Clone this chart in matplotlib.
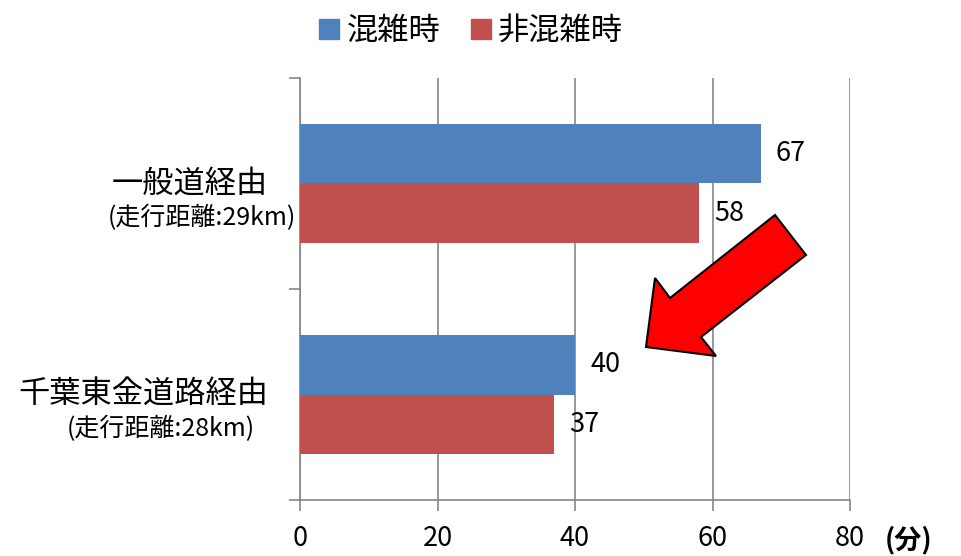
import matplotlib
matplotlib.use("Agg")
import matplotlib.pyplot as plt
from matplotlib.patches import Polygon
from matplotlib.lines import Line2D

plt.rcParams['font.family'] = ['Noto Sans CJK JP', 'DejaVu Sans']

categories = ["一般道経由", "千葉東金道路経由"]
subtitles = ["(走行距離:29km)", "(走行距離:28km)"]
series_names = ["混雑時", "非混雑時"]
congested = [67, 40]
uncongested = [58, 37]
xticks = [0, 20, 40, 60, 80]
unit_label = "(分)"

blue = "#4F81BD"
red = "#C0504D"
grey = "#868686"

W, H = 962, 556
fig = plt.figure(figsize=(W / 100, H / 100), dpi=100)
ax = fig.add_axes([300 / W, 1 - 500 / H, 550 / W, 422 / H])

bh = 0.284
ypos = list(range(len(categories)))
b1 = ax.barh([y - bh / 2 for y in ypos], congested, height=bh, color=blue, zorder=3)
b2 = ax.barh([y + bh / 2 for y in ypos], uncongested, height=bh, color=red, zorder=3)

for bars, vals in ((b1, congested), (b2, uncongested)):
    for rect, v in zip(bars, vals):
        ax.annotate(str(v), xy=(v, rect.get_y() + rect.get_height() / 2),
                    xytext=(11, 0), textcoords='offset points',
                    ha='left', va='center', fontsize=19.5, color='black')

ax.set_xlim(0, 80)
ax.set_ylim(1.5, -0.5)
ax.set_xticks(xticks)
ax.set_xticklabels([str(t) for t in xticks], fontsize=19.5)
ax.xaxis.grid(True, color=grey, linewidth=1.2, zorder=0)
ax.tick_params(axis='x', length=8, width=1.2, color=grey, pad=10, direction='out')
ax.set_yticks([-0.5, 0.5, 1.5])
ax.set_yticklabels([])
ax.tick_params(axis='y', length=8, width=1.2, color=grey, direction='out')
for s in ('top', 'right'):
    ax.spines[s].set_visible(False)
for s in ('left', 'bottom'):
    ax.spines[s].set_color(grey)
    ax.spines[s].set_linewidth(1.2)

# category labels
main_x = [268, 268]
sub_x = [296, 255]
for i, (c, s) in enumerate(zip(categories, subtitles)):
    ax.annotate(c, xy=(main_x[i], i), xycoords=('figure pixels', 'data'),
                xytext=(0, 0), textcoords='offset points',
                ha='right', va='center', fontsize=22.5)
    ax.annotate(s, xy=(sub_x[i], i), xycoords=('figure pixels', 'data'),
                xytext=(0, -25), textcoords='offset points',
                ha='right', va='center', fontsize=18)

fig.text(885 / W, 1 - 540 / H, unit_label, fontsize=19.5, fontweight='bold',
         ha='left', va='center')

# legend
handles = [Line2D([], [], marker='s', linestyle='none', markersize=14,
                  markerfacecolor=blue, markeredgecolor=blue),
           Line2D([], [], marker='s', linestyle='none', markersize=14,
                  markerfacecolor=red, markeredgecolor=red)]
fig.legend(handles, series_names, loc='center', bbox_to_anchor=(470 / W, 1 - 31 / H),
           ncol=2, frameon=False, fontsize=22.5, handletextpad=0.15,
           columnspacing=0.9, handlelength=0.8)

# annotation arrow (figure pixels)
arrow_px = [(775, 215), (806, 255), (701, 337), (716, 356),
            (646, 347), (655, 278), (670, 298)]
arrow = Polygon([(x / W, 1 - y / H) for x, y in arrow_px], closed=True,
                transform=fig.transFigure, facecolor='#FF0000',
                edgecolor='black', linewidth=1.5, zorder=10)
fig.patches.append(arrow)

fig.savefig("out.png", dpi=100)
